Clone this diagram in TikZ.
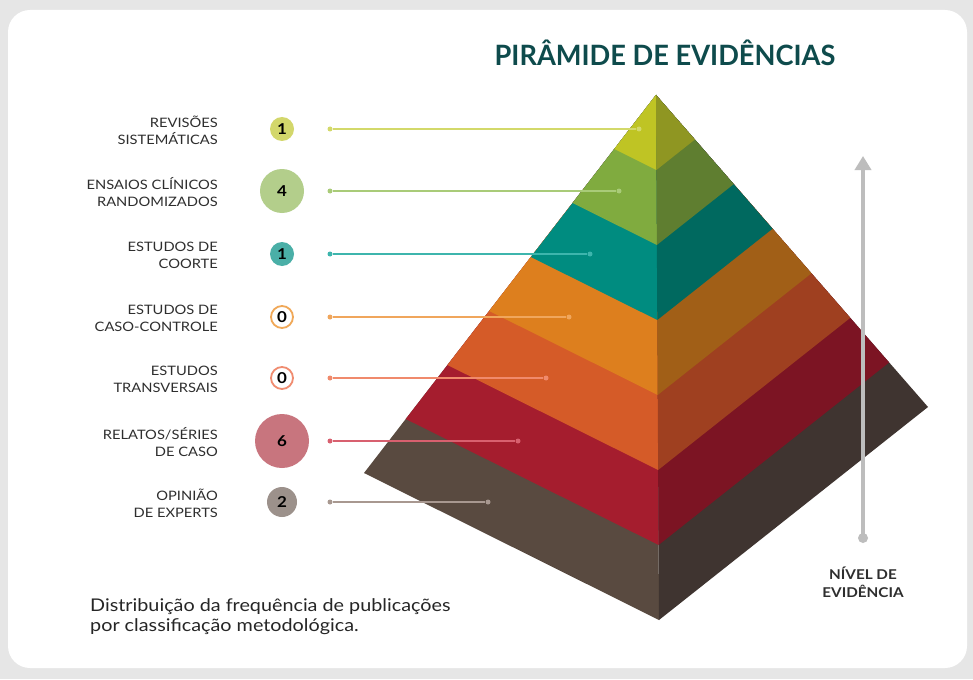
\documentclass[tikz,border=0pt]{standalone}
\usepackage{fontspec}
\setmainfont{Lato}[FakeStretch=1.13]
\usepackage{graphicx}
\usetikzlibrary{calc}
\usetikzlibrary{arrows.meta}

\definecolor{bggray}{HTML}{E6E6E6}
\definecolor{titleteal}{HTML}{0E4B4C}
\definecolor{labgray}{HTML}{2E2E2E}
\definecolor{lvlgray}{HTML}{BDBDBD}
% faces of the layers: left (lit) and right (shaded)
\definecolor{layAL}{HTML}{BFC424}\definecolor{layAR}{HTML}{8F9622}
\definecolor{layBL}{HTML}{80AB3F}\definecolor{layBR}{HTML}{5F7E30}
\definecolor{layCL}{HTML}{008C80}\definecolor{layCR}{HTML}{00695F}
\definecolor{layDL}{HTML}{DD7F1E}\definecolor{layDR}{HTML}{A15F17}
\definecolor{layEL}{HTML}{D55B28}\definecolor{layER}{HTML}{9F4020}
\definecolor{layFL}{HTML}{A51D2E}\definecolor{layFR}{HTML}{7C1423}
\definecolor{layGL}{HTML}{594A40}\definecolor{layGR}{HTML}{3F3430}
% leader lines and bubbles
\definecolor{lnA}{HTML}{D3D96A}\definecolor{cirA}{HTML}{D3D76B}
\definecolor{lnB}{HTML}{A9CB78}\definecolor{cirB}{HTML}{B3CE8B}
\definecolor{lnC}{HTML}{3DB5AD}\definecolor{cirC}{HTML}{4AAFA7}
\definecolor{lnD}{HTML}{F0A65C}\definecolor{cirD}{HTML}{F0A858}
\definecolor{lnE}{HTML}{F08A6C}\definecolor{cirE}{HTML}{F08C70}
\definecolor{lnF}{HTML}{D8606F}\definecolor{cirF}{HTML}{C8757E}
\definecolor{lnG}{HTML}{A89890}\definecolor{cirG}{HTML}{9C918B}

\begin{document}
\begin{tikzpicture}[x=1pt,y=-1pt,
    label/.style={anchor=east,align=right,text=labgray,inner sep=0pt,
      font=\fontsize{13}{17}\selectfont},
    bubble/.style={circle,inner sep=0pt,
      font=\fontsize{15}{15}\selectfont\bfseries},
    tipdot/.style={circle,inner sep=0pt,minimum size=5pt},
    leader/.style={line width=2pt}]

% card
\fill[bggray] (0,0) rectangle (973,679);
\fill[white,rounded corners=22pt] (8,10) rectangle (967,668);
\useasboundingbox (0,0) rectangle (973,679);

% title
\node[text=titleteal,font=\fontsize{28}{28}\selectfont\bfseries] (title) at (665,53)
  {\scalebox{0.86}[1]{PIRÂMIDE DE EVIDÊNCIAS}};

% pyramid corners
\coordinate (apex) at (656,95);
\coordinate (front) at (659,620);
\coordinate (left) at (364,473);
\coordinate (right) at (928,407);

% layers, painted from the base up
\foreach \k/\cl/\cr in {7/layGL/layGR,6/layFL/layFR,5/layEL/layER,
    4/layDL/layDR,3/layCL/layCR,2/layBL/layBR,1/layAL/layAR}
{
  \fill[\cl] (apex) -- ($(apex)!\k/7!(left)$) -- ($(apex)!\k/7!(front)$) -- cycle;
  \fill[\cr] (apex) -- ($(apex)!\k/7!(front)$) -- ($(apex)!\k/7!(right)$) -- cycle;
}

% leaders from the bubbles into the layers
\foreach \i/\y/\ex/\lc in {1/129/639/lnA,2/191/619/lnB,3/254/590/lnC,
    4/317/569/lnD,5/378/546/lnE,6/441/518/lnF,7/502/488/lnG}
{
  \node[tipdot,fill=\lc] (s\i) at (330,\y) {};
  \node[tipdot,fill=\lc] (e\i) at (\ex,\y) {};
  \draw[leader,\lc] (s\i) -- (e\i);
}

% classes and counts
\node[label] (lab1) at (218,130) {REVISÕES\\SISTEMÁTICAS};
\node[bubble,fill=cirA,minimum size=24pt] (num1) at (282,129) {1};
\node[label] (lab2) at (218,192) {ENSAIOS CLÍNICOS\\RANDOMIZADOS};
\node[bubble,fill=cirB,minimum size=44pt] (num2) at (282,191) {4};
\node[label] (lab3) at (218,255) {ESTUDOS DE\\COORTE};
\node[bubble,fill=cirC,minimum size=24pt] (num3) at (282,254) {1};
\node[label] (lab4) at (218,318) {ESTUDOS DE\\CASO-CONTROLE};
\node[bubble,draw=cirD,line width=1.8pt,fill=white,minimum size=22pt] (num4) at (282,317) {0};
\node[label] (lab5) at (218,379) {ESTUDOS\\TRANSVERSAIS};
\node[bubble,draw=cirE,line width=1.8pt,fill=white,minimum size=22pt] (num5) at (282,378) {0};
\node[label] (lab6) at (218,442) {RELATOS/SÉRIES\\DE CASO};
\node[bubble,fill=cirF,minimum size=54pt] (num6) at (282,441) {6};
\node[label] (lab7) at (218,503) {OPINIÃO\\DE EXPERTS};
\node[bubble,fill=cirG,minimum size=30pt] (num7) at (282,502) {2};

% level of evidence arrow
\node[circle,fill=lvlgray,inner sep=0pt,minimum size=10pt] (lvlbot) at (863,538) {};
\coordinate (lvltop) at (863,156);
\draw[lvlgray,line width=4pt,-{Triangle[width=16pt,length=14pt]}] (lvlbot.center) -- (lvltop);
\node[align=center,text=labgray,font=\fontsize{13.5}{18}\selectfont\bfseries] (lvl) at (863,582)
  {NÍVEL DE\\EVIDÊNCIA};

% caption
\node[anchor=north west,align=left,inner sep=0pt,text=black!85,font=\fontsize{17.5}{20}\selectfont] (caption)
  at (90,598) {Distribuição da frequência de publicações\\por classificação metodológica.};
\end{tikzpicture}
\end{document}
